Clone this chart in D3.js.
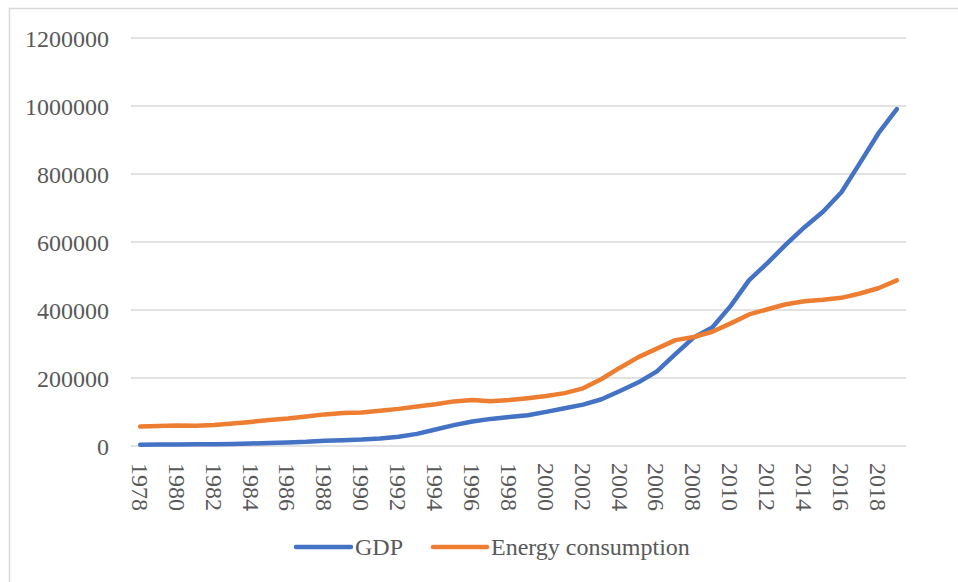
<!DOCTYPE html>
<html>
<head>
<meta charset="utf-8">
<script src="https://cdn.jsdelivr.net/npm/d3@7/dist/d3.min.js"></script>
<style>
  html, body { margin: 0; padding: 0; background: #ffffff; }
  svg { display: block; }
  text { font-family: "Liberation Serif", "Times New Roman", serif; fill: #595959; }
</style>
</head>
<body>
<svg id="chart" width="958" height="582"></svg>
<script>
// Years on the category axis
const years = d3.range(1978, 2020);

// GDP (100 million yuan)
const gdp = [
  3679, 4101, 4588, 4936, 5373, 6021, 7279, 9099, 10376, 12175,
  15180, 17180, 18873, 22006, 27195, 35673, 48638, 61340, 71814, 79715,
  85196, 90564, 100280, 110863, 121717, 137422, 161840, 187319, 219439, 270092,
  319245, 348518, 412119, 487940, 538580, 592963, 643563, 688858, 746395, 832036,
  919281, 990865
];

// Energy consumption (10,000 tce)
const energy = [
  57144, 58588, 60275, 59447, 62067, 66040, 70904, 76682, 80850, 86632,
  92997, 96934, 98703, 103783, 109170, 115993, 122737, 131176, 135192, 131500,
  135000, 140569, 146964, 155547, 169577, 197083, 230281, 261369, 286467, 311442,
  320611, 336126, 360648, 387043, 402138, 416913, 425806, 429905, 435819, 448529,
  464000, 487000
];

// Axis ticks
const yTicks = [0, 200000, 400000, 600000, 800000, 1000000, 1200000];
const xTickYears = years.filter(y => (y - 1978) % 2 === 0);

const seriesNames = ["GDP", "Energy consumption"];
const seriesColors = ["#4472C4", "#ED7D31"];

const fontSize = 24;

const svg = d3.select("#chart");

// Chart frame
svg.append("rect")
  .attr("x", 9.5).attr("y", 8.5)
  .attr("width", 1200).attr("height", 1200)
  .attr("fill", "none")
  .attr("stroke", "#d9d9d9")
  .attr("stroke-width", 1.5);

const plot = { left: 131, right: 906, top: 38, bottom: 446 };

const x = d3.scaleBand()
  .domain(years)
  .range([plot.left, plot.right])
  .padding(0);

const y = d3.scaleLinear()
  .domain([0, 1200000])
  .range([plot.bottom, plot.top]);

const cx = d => x(d) + x.bandwidth() / 2;

// Horizontal gridlines
svg.append("g")
  .selectAll("line")
  .data(yTicks)
  .join("line")
  .attr("x1", plot.left).attr("x2", plot.right)
  .attr("y1", d => y(d)).attr("y2", d => y(d))
  .attr("stroke", "#d9d9d9")
  .attr("stroke-width", 1.5);

// Y axis labels
const yAxis = d3.axisLeft(y).tickValues(yTicks).tickSize(0).tickPadding(0)
  .tickFormat(d3.format("d"));
const yG = svg.append("g")
  .attr("transform", `translate(${plot.left - 22},0)`)
  .call(yAxis);
yG.select(".domain").remove();
yG.selectAll("text")
  .attr("font-size", fontSize)
  .attr("font-family", "Liberation Serif, Times New Roman, serif")
  .attr("fill", "#595959")
  .attr("dy", "0.35em");

// X axis labels, rotated to read downward
const xAxis = d3.axisBottom(x).tickValues(xTickYears).tickSize(0).tickPadding(0);
const xG = svg.append("g")
  .attr("transform", `translate(0,${plot.bottom})`)
  .call(xAxis);
xG.select(".domain").remove();
xG.selectAll(".tick text")
  .attr("font-size", fontSize)
  .attr("font-family", "Liberation Serif, Times New Roman, serif")
  .attr("fill", "#595959")
  .attr("text-anchor", "start")
  .attr("x", 0)
  .attr("y", 0)
  .attr("dy", "0.35em")
  .attr("transform", "translate(0,17) rotate(90)");

// Lines
const line = d3.line()
  .x((d, i) => cx(years[i]))
  .y(d => y(d));

[gdp, energy].forEach((vals, k) => {
  svg.append("path")
    .datum(vals)
    .attr("d", line)
    .attr("fill", "none")
    .attr("stroke", seriesColors[k])
    .attr("stroke-width", 4.5)
    .attr("stroke-linejoin", "round")
    .attr("stroke-linecap", "round");
});

// Legend
const legendItems = [
  { x1: 296, x2: 351, tx: 355 },
  { x1: 433, x2: 487, tx: 491 }
];
const legendY = 547;
const lg = svg.append("g");
legendItems.forEach((it, k) => {
  lg.append("line")
    .attr("x1", it.x1).attr("x2", it.x2)
    .attr("y1", legendY).attr("y2", legendY)
    .attr("stroke", seriesColors[k])
    .attr("stroke-width", 4.5)
    .attr("stroke-linecap", "round");
  lg.append("text")
    .attr("x", it.tx).attr("y", legendY)
    .attr("dy", "0.35em")
    .attr("font-size", fontSize)
    .text(seriesNames[k]);
});
</script>
</body>
</html>
